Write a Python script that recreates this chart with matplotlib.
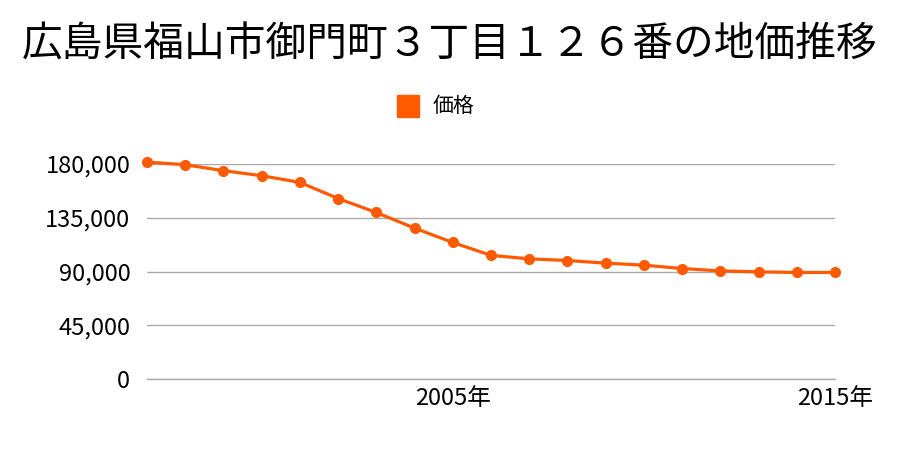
import matplotlib
matplotlib.use("Agg")
import matplotlib.pyplot as plt
from matplotlib.patches import Rectangle

plt.rcParams['font.family'] = ['Noto Sans CJK JP', 'DejaVu Sans']

# --- data ---
years = list(range(1997, 2016))
prices = [181600, 179400, 174400, 170200, 164600, 151100, 139400, 126300,
          114300, 103500, 100600, 99200, 97000, 95300, 92500, 90500,
          89700, 89200, 89200]
yticks = [0, 45000, 90000, 135000, 180000]
xticks = [2005, 2015]
title = "広島県福山市御門町３丁目１２６番の地価推移"
series_name = "価格"
color = "#ff5a00"

fig = plt.figure(figsize=(9, 4.5), dpi=100)
ax = fig.add_axes([147 / 900, 1 - 379 / 450, (835 - 147) / 900, (379 - 164) / 450])

ax.plot(years, prices, color=color, lw=2.3, marker="o", ms=7, clip_on=False, zorder=3)

ax.set_xlim(years[0], years[-1])
ax.set_ylim(0, 180000)
ax.set_yticks(yticks)
ax.set_yticklabels([f"{v:,}" for v in yticks], fontsize=17)
ax.set_xticks(xticks)
ax.set_xticklabels([f"{x}年" for x in xticks], fontsize=17)
ax.tick_params(length=0, pad=12)
ax.tick_params(axis="x", pad=6)
ax.grid(axis="y", color="#aaaaaa", lw=1)
ax.axhline(0, color="#aaaaaa", lw=1, clip_on=False, zorder=0)
ax.set_axisbelow(True)
for s in ax.spines.values():
    s.set_visible(False)

fig.text(0.5, 1 - 45 / 450, title, ha="center", va="center", fontsize=29.3)
fig.patches.append(Rectangle((397 / 900, 1 - 117 / 450), 22 / 900, 22 / 450,
                             transform=fig.transFigure, color=color, figure=fig))
fig.text(433 / 900, 1 - 106 / 450, series_name, ha="left", va="center", fontsize=15)

fig.savefig("out.png", dpi=100)
